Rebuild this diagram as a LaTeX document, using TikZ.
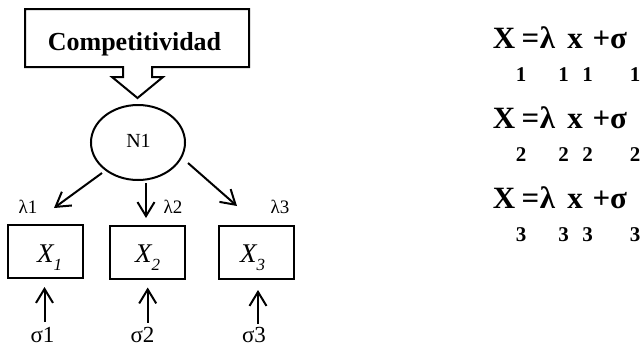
\documentclass[tikz,border=0pt]{standalone}
\usepackage{fontspec}
\setmainfont{Liberation Serif}
\usetikzlibrary{arrows.meta,shapes.geometric}
\newcommand{\fsz}[1]{\fontsize{#1}{#1}\selectfont}
\tikzset{
  ln/.style={line width=2pt, line join=miter},
  arr/.style={ln, -{Straight Barb[length=14pt,width=17pt,line width=2pt]}},
  obsbox/.style={ln, draw, rectangle, minimum width=75pt, minimum height=53pt, inner sep=0pt},
  lamlab/.style={anchor=base, inner sep=0pt, font=\fsz{19}},
  siglab/.style={anchor=base, inner sep=0pt, font=\fsz{23}},
  eqmain/.style={anchor=base, inner sep=0pt, font=\fsz{31}\bfseries},
  eqsub/.style={anchor=base, inner sep=0pt, font=\fsz{21}\bfseries},
}
\begin{document}
\begin{tikzpicture}[x=1pt,y=-1pt]
\useasboundingbox (0,0) rectangle (641,346);

% callout box with the block arrow pointing down to the factor
\draw[ln] (123,67) -- (25,67) -- (25,9) -- (249,9) -- (249,67) -- (152,67)
  -- (152,77) -- (163,77) -- (137.5,98) -- (112,77) -- (123,77) -- cycle;
\node[anchor=base, inner sep=0pt, font=\fsz{26}\bfseries] (comp) at (134.5,50) {Competitividad};

% latent factor
\node[ln, draw, ellipse, minimum width=94pt, minimum height=75pt, inner sep=0pt] (n1) at (138,142.5) {};
\node[anchor=base, inner sep=0pt, font=\fsz{20}] (n1lab) at (138.5,147) {N1};

% observed indicators
\node[obsbox] (x1) at (45.5,251.5) {};
\node[obsbox] (x2) at (147,252) {};
\node[obsbox] (x3) at (256,252.5) {};
\foreach \i/\xx in {1/37,2/135,3/240}{
  \node[anchor=base west, inner sep=0pt] (x\i lab) at (\xx,262)
    {\fsz{27}\itshape X\raisebox{-8pt}{\fsz{17}\i}};
}

% loadings
\coordinate (a1s) at (102,173);
\coordinate (a1t) at (54,208);
\coordinate (a2s) at (146,183);
\coordinate (a2t) at (146,218);
\coordinate (a3s) at (188,163);
\coordinate (a3t) at (237,206);
\draw[arr] (a1s) -- (a1t);
\draw[arr] (a2s) -- (a2t);
\draw[arr] (a3s) -- (a3t);
\node[lamlab] (l1) at (28,213) {λ1};
\node[lamlab] (l2) at (173,213) {λ2};
\node[lamlab] (l3) at (280,213) {λ3};

% error terms
\node[siglab] (s1) at (42.5,342) {σ1};
\node[siglab] (s2) at (142.5,342) {σ2};
\node[siglab] (s3) at (254,342) {σ3};
\draw[arr] ([xshift=-1pt,yshift=-43pt]x1.south) -- ([xshift=-1pt,yshift=-8pt]x1.south);
\draw[arr] ([xshift=0.7pt,yshift=-43pt]x2.south) -- ([xshift=0.7pt,yshift=-8pt]x2.south);
\draw[arr] ([xshift=2pt,yshift=-44pt]x3.south) -- ([xshift=2pt,yshift=-10pt]x3.south);

% measurement equations
\foreach \k in {1,2,3}{
  \pgfmathsetmacro{\yb}{48+80*(\k-1)}
  \pgfmathsetmacro{\ys}{\yb+33}
  \node[eqmain] (eX\k) at (504,\yb) {X};
  \node[eqmain] (eEq\k) at (530.5,\yb) {=};
  \node[eqmain] (eL\k) at (547.5,\yb) {λ};
  \node[eqmain] (ex\k) at (575,\yb) {x};
  \node[eqmain] (eP\k) at (601.5,\yb) {+};
  \node[eqmain] (eS\k) at (618.5,\yb) {σ};
  \node[eqsub] (eXs\k) at (521,\ys) {\k};
  \node[eqsub] (eLs\k) at (563.5,\ys) {\k};
  \node[eqsub] (exs\k) at (587.5,\ys) {\k};
  \node[eqsub] (eSs\k) at (635,\ys) {\k};
}
\end{tikzpicture}
\end{document}
